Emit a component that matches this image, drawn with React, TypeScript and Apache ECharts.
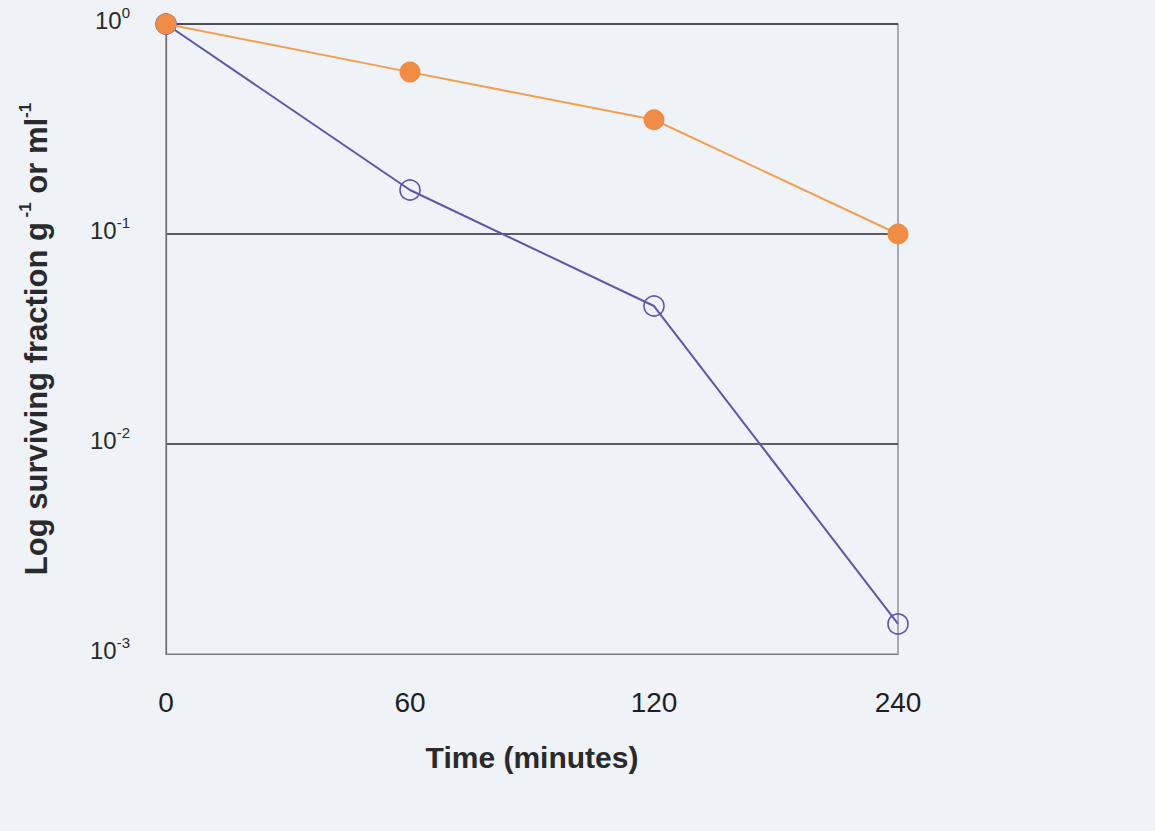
import React, { useEffect, useRef } from "react";
import * as echarts from "echarts";

const times = ["0", "60", "120", "240"];
const filledSeries = [1.0, 0.59, 0.35, 0.1];
const openSeries = [1.0, 0.162, 0.0454, 0.00139];
const yMin = 0.001;
const yMax = 1;

export default function App() {
  const ref = useRef<HTMLDivElement>(null);
  useEffect(() => {
    if (!ref.current) return;
    const chart = echarts.init(ref.current, null, { renderer: "svg" });
    const font = "'Liberation Sans', Arial, sans-serif";
    chart.setOption({
      animation: false,
      backgroundColor: "#eff2f7",
      grid: {
        left: 166,
        right: 257,
        top: 24,
        bottom: 177,
        show: true,
        borderColor: "#7a7a80",
        borderWidth: 1.2,
      },
      xAxis: {
        type: "category",
        data: times,
        boundaryGap: false,
        axisLine: { show: true, lineStyle: { color: "#7a7a80", width: 1.2 } },
        axisTick: { show: false },
        axisLabel: { fontSize: 28, color: "#1e1e1e", margin: 34, fontFamily: font },
        splitLine: { show: false },
        name: "Time (minutes)",
        nameLocation: "middle",
        nameGap: 88,
        nameTextStyle: { fontSize: 30, fontWeight: "bold", color: "#2a2a2a", fontFamily: font },
      },
      yAxis: {
        type: "log",
        logBase: 10,
        min: yMin,
        max: yMax,
        axisLine: { show: true, lineStyle: { color: "#6a6a70", width: 1.2 } },
        axisTick: { show: false },
        splitLine: { show: true, showMinLine: false, lineStyle: { color: "#2a2a33", width: 1.5 } },
        axisLabel: {
          margin: 36,
          fontFamily: font,
          padding: [0, 0, 8, 0],
          formatter: (v: number) => `{b|10}{s|${Math.round(Math.log10(v))}}`,
          rich: {
            b: { fontSize: 24, color: "#2a2a2a", lineHeight: 30, fontFamily: font },
            s: { fontSize: 15, color: "#2a2a2a", verticalAlign: "top", lineHeight: 30, fontFamily: font },
          },
        },
        name: "{t|Log surviving fraction g}{s| -1}{t| or ml}{s|-1}",
        nameLocation: "middle",
        nameRotate: 90,
        nameGap: 111,
        nameTextStyle: {
          rich: {
            t: { fontSize: 31, fontWeight: "bold", color: "#2a2a2a", lineHeight: 38, fontFamily: font },
            s: { fontSize: 17, fontWeight: "bold", color: "#2a2a2a", verticalAlign: "top", lineHeight: 38, fontFamily: font },
          },
        },
      },
      series: [
        {
          type: "line",
          data: openSeries,
          symbol: "circle",
          symbolSize: 20,
          lineStyle: { color: "#5c57a8", width: 2 },
          itemStyle: { color: "rgba(0,0,0,0)", borderColor: "#5c57a8", borderWidth: 1.6 },
          z: 3,
        },
        {
          type: "line",
          data: filledSeries,
          symbol: "circle",
          symbolSize: 21,
          lineStyle: { color: "#f0a050", width: 2 },
          itemStyle: { color: "#f08c46", borderWidth: 0 },
          z: 4,
        },
      ],
    });
    return () => chart.dispose();
  }, []);
  return (
    <div
      ref={ref}
      style={{ position: "fixed", left: 0, top: 0, width: 1155, height: 831, background: "#eff2f7" }}
    />
  );
}
